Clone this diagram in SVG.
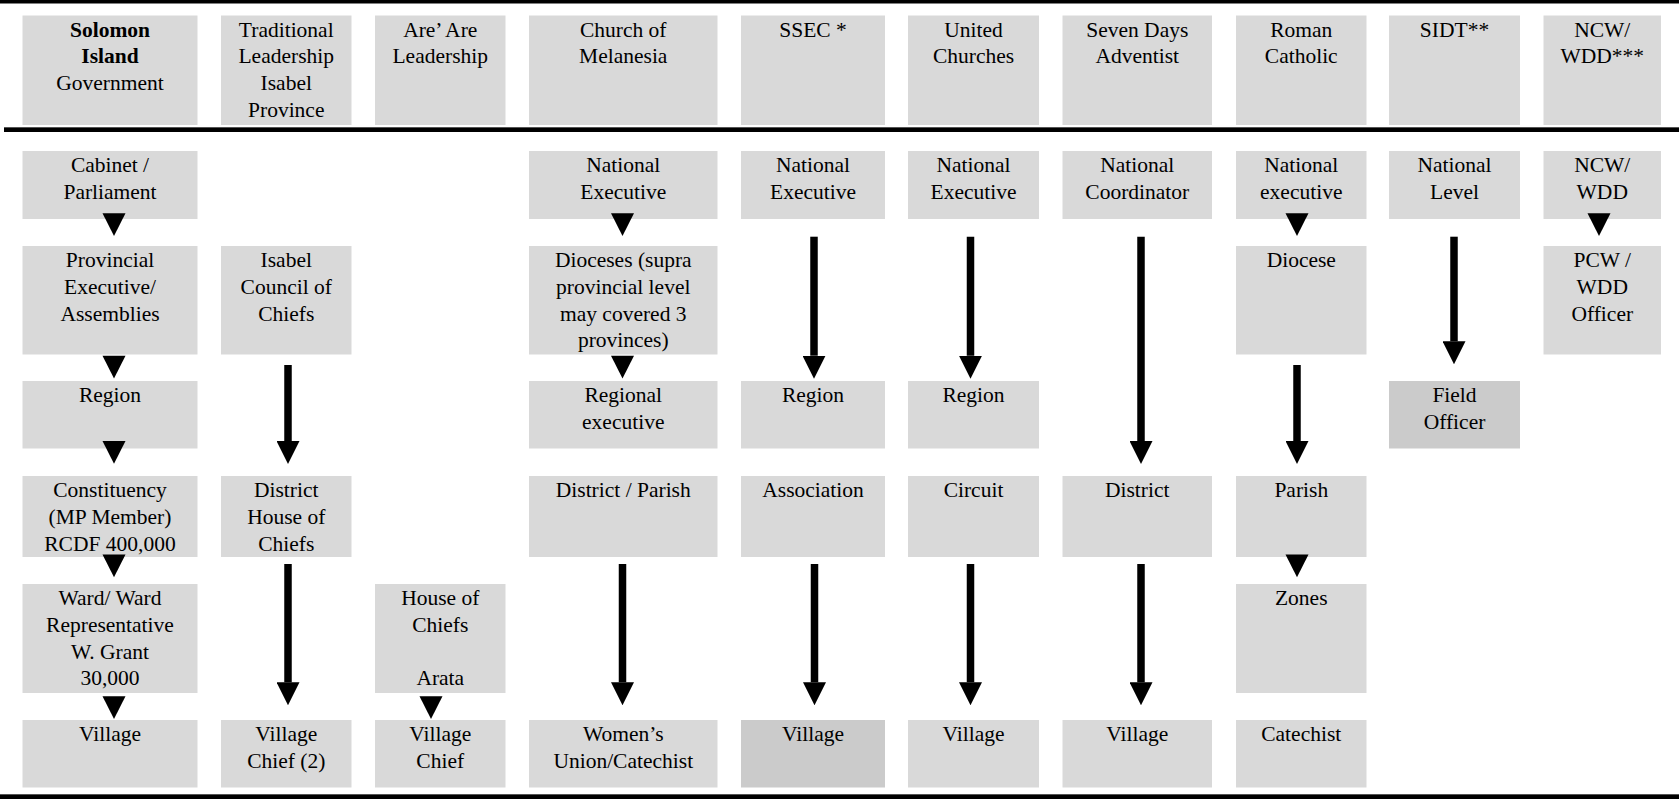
<svg xmlns="http://www.w3.org/2000/svg" xmlns:xlink="http://www.w3.org/1999/xlink" width="1679" height="799" viewBox="0 0 1679 799">
<style>
.b{fill:#d9d9d9}
.d{fill:#cbcbcb}
.t text{fill:#000;text-anchor:middle}
.bold{font-weight:bold}
.shaft{stroke:#000;stroke-width:7.5;marker-end:url(#head)}
.rule{fill:#000}
</style>
<defs>
<marker id="head" markerUnits="userSpaceOnUse" viewBox="0 0 23 23" refX="0" refY="11.5" markerWidth="23" markerHeight="23" orient="auto">
<path d="M0 0L23 11.5L0 23Z" fill="#000"/>
</marker>
<path id="tri" d="M-11.5 0H11.5L0 22.7Z" fill="#000"/>
</defs>
<rect width="1679" height="799" fill="#fff"/>
<g id="rules">
<rect class="rule" x="0" y="0" width="1679" height="3.5"/>
<rect x="4" y="127" width="1675" height="1" fill="#555"/>
<rect class="rule" x="4" y="128" width="1675" height="4"/>
<rect x="0" y="794" width="1679" height="1" fill="#555"/>
<rect class="rule" x="0" y="795" width="1679" height="4"/>
</g>
<g class="t" font-family="Liberation Serif, Tinos, Times New Roman, DejaVu Serif, Noto Serif, serif" font-size="21.5">
<g id="headers">
<g id="h-gov"><rect class="b" x="22.5" y="15.5" width="175" height="109.5"/><text x="110" y="36.5" class="bold">Solomon</text><text x="110" y="63.3" class="bold">Island</text><text x="110" y="90.1">Government</text></g>
<g id="h-trad"><rect class="b" x="221" y="15.5" width="130.5" height="109.5"/><text x="286.25" y="36.5">Traditional</text><text x="286.25" y="63.3">Leadership</text><text x="286.25" y="90.1">Isabel</text><text x="286.25" y="116.9">Province</text></g>
<g id="h-are"><rect class="b" x="375" y="15.5" width="130.5" height="109.5"/><text x="440.25" y="36.5">Are’ Are</text><text x="440.25" y="63.3">Leadership</text></g>
<g id="h-church"><rect class="b" x="529" y="15.5" width="188.5" height="109.5"/><text x="623.25" y="36.5">Church of</text><text x="623.25" y="63.3">Melanesia</text></g>
<g id="h-ssec"><rect class="b" x="741" y="15.5" width="144" height="109.5"/><text x="813" y="36.5">SSEC *</text></g>
<g id="h-united"><rect class="b" x="908" y="15.5" width="131" height="109.5"/><text x="973.5" y="36.5">United</text><text x="973.5" y="63.3">Churches</text></g>
<g id="h-seven"><rect class="b" x="1062.5" y="15.5" width="149.5" height="109.5"/><text x="1137.25" y="36.5">Seven Days</text><text x="1137.25" y="63.3">Adventist</text></g>
<g id="h-roman"><rect class="b" x="1236" y="15.5" width="130.5" height="109.5"/><text x="1301.25" y="36.5">Roman</text><text x="1301.25" y="63.3">Catholic</text></g>
<g id="h-sidt"><rect class="b" x="1389" y="15.5" width="131" height="109.5"/><text x="1454.5" y="36.5">SIDT**</text></g>
<g id="h-ncw"><rect class="b" x="1543.5" y="15.5" width="117.5" height="109.5"/><text x="1602.25" y="36.5">NCW/</text><text x="1602.25" y="63.3">WDD***</text></g>
</g>
<g id="row1">
<g id="gov-cabinet"><rect class="b" x="22.5" y="151" width="175" height="68"/><text x="110" y="172">Cabinet /</text><text x="110" y="198.8">Parliament</text></g>
<g id="church-national"><rect class="b" x="529" y="151" width="188.5" height="68"/><text x="623.25" y="172">National</text><text x="623.25" y="198.8">Executive</text></g>
<g id="ssec-national"><rect class="b" x="741" y="151" width="144" height="68"/><text x="813" y="172">National</text><text x="813" y="198.8">Executive</text></g>
<g id="united-national"><rect class="b" x="908" y="151" width="131" height="68"/><text x="973.5" y="172">National</text><text x="973.5" y="198.8">Executive</text></g>
<g id="seven-national"><rect class="b" x="1062.5" y="151" width="149.5" height="68"/><text x="1137.25" y="172">National</text><text x="1137.25" y="198.8">Coordinator</text></g>
<g id="roman-national"><rect class="b" x="1236" y="151" width="130.5" height="68"/><text x="1301.25" y="172">National</text><text x="1301.25" y="198.8">executive</text></g>
<g id="sidt-national"><rect class="b" x="1389" y="151" width="131" height="68"/><text x="1454.5" y="172">National</text><text x="1454.5" y="198.8">Level</text></g>
<g id="ncw-national"><rect class="b" x="1543.5" y="151" width="117.5" height="68"/><text x="1602.25" y="172">NCW/</text><text x="1602.25" y="198.8">WDD</text></g>
</g>
<g id="row2">
<g id="gov-provincial"><rect class="b" x="22.5" y="246" width="175" height="108.5"/><text x="110" y="267">Provincial</text><text x="110" y="293.8">Executive/</text><text x="110" y="320.6">Assemblies</text></g>
<g id="trad-council"><rect class="b" x="221" y="246" width="130.5" height="108.5"/><text x="286.25" y="267">Isabel</text><text x="286.25" y="293.8">Council of</text><text x="286.25" y="320.6">Chiefs</text></g>
<g id="church-dioceses"><rect class="b" x="529" y="246" width="188.5" height="108.5"/><text x="623.25" y="267">Dioceses (supra</text><text x="623.25" y="293.8">provincial level</text><text x="623.25" y="320.6">may covered 3</text><text x="623.25" y="347.4">provinces)</text></g>
<g id="roman-diocese"><rect class="b" x="1236" y="246" width="130.5" height="108.5"/><text x="1301.25" y="267">Diocese</text></g>
<g id="ncw-pcw"><rect class="b" x="1543.5" y="246" width="117.5" height="108.5"/><text x="1602.25" y="267">PCW /</text><text x="1602.25" y="293.8">WDD</text><text x="1602.25" y="320.6">Officer</text></g>
</g>
<g id="row3">
<g id="gov-region"><rect class="b" x="22.5" y="381" width="175" height="67.5"/><text x="110" y="402">Region</text></g>
<g id="church-regional"><rect class="b" x="529" y="381" width="188.5" height="67.5"/><text x="623.25" y="402">Regional</text><text x="623.25" y="428.8">executive</text></g>
<g id="ssec-region"><rect class="b" x="741" y="381" width="144" height="67.5"/><text x="813" y="402">Region</text></g>
<g id="united-region"><rect class="b" x="908" y="381" width="131" height="67.5"/><text x="973.5" y="402">Region</text></g>
<g id="sidt-field"><rect class="d" x="1389" y="381" width="131" height="67.5"/><text x="1454.5" y="402">Field</text><text x="1454.5" y="428.8">Officer</text></g>
</g>
<g id="row4">
<g id="gov-constituency"><rect class="b" x="22.5" y="476" width="175" height="81"/><text x="110" y="497">Constituency</text><text x="110" y="523.8">(MP Member)</text><text x="110" y="550.6">RCDF 400,000</text></g>
<g id="trad-district"><rect class="b" x="221" y="476" width="130.5" height="81"/><text x="286.25" y="497">District</text><text x="286.25" y="523.8">House of</text><text x="286.25" y="550.6">Chiefs</text></g>
<g id="church-district"><rect class="b" x="529" y="476" width="188.5" height="81"/><text x="623.25" y="497">District / Parish</text></g>
<g id="ssec-association"><rect class="b" x="741" y="476" width="144" height="81"/><text x="813" y="497">Association</text></g>
<g id="united-circuit"><rect class="b" x="908" y="476" width="131" height="81"/><text x="973.5" y="497">Circuit</text></g>
<g id="seven-district"><rect class="b" x="1062.5" y="476" width="149.5" height="81"/><text x="1137.25" y="497">District</text></g>
<g id="roman-parish"><rect class="b" x="1236" y="476" width="130.5" height="81"/><text x="1301.25" y="497">Parish</text></g>
</g>
<g id="row5">
<g id="gov-ward"><rect class="b" x="22.5" y="584" width="175" height="109"/><text x="110" y="605">Ward/ Ward</text><text x="110" y="631.8">Representative</text><text x="110" y="658.6">W. Grant</text><text x="110" y="685.4">30,000</text></g>
<g id="are-house"><rect class="b" x="375" y="584" width="130.5" height="109"/><text x="440.25" y="605">House of</text><text x="440.25" y="631.8">Chiefs</text><text x="440.25" y="685.4">Arata</text></g>
<g id="roman-zones"><rect class="b" x="1236" y="584" width="130.5" height="109"/><text x="1301.25" y="605">Zones</text></g>
</g>
<g id="row6">
<g id="gov-village"><rect class="b" x="22.5" y="720" width="175" height="67.5"/><text x="110" y="741">Village</text></g>
<g id="trad-village"><rect class="b" x="221" y="720" width="130.5" height="67.5"/><text x="286.25" y="741">Village</text><text x="286.25" y="767.8">Chief (2)</text></g>
<g id="are-village"><rect class="b" x="375" y="720" width="130.5" height="67.5"/><text x="440.25" y="741">Village</text><text x="440.25" y="767.8">Chief</text></g>
<g id="church-women"><rect class="b" x="529" y="720" width="188.5" height="67.5"/><text x="623.25" y="741">Women’s</text><text x="623.25" y="767.8">Union/Catechist</text></g>
<g id="ssec-village"><rect class="d" x="741" y="720" width="144" height="67.5"/><text x="813" y="741">Village</text></g>
<g id="united-village"><rect class="b" x="908" y="720" width="131" height="67.5"/><text x="973.5" y="741">Village</text></g>
<g id="seven-village"><rect class="b" x="1062.5" y="720" width="149.5" height="67.5"/><text x="1137.25" y="741">Village</text></g>
<g id="roman-catechist"><rect class="b" x="1236" y="720" width="130.5" height="67.5"/><text x="1301.25" y="741">Catechist</text></g>
</g>
</g>
<g id="connectors">
<use xlink:href="#tri" x="114" y="213.3"/>
<use xlink:href="#tri" x="114" y="355.7"/>
<use xlink:href="#tri" x="114" y="441"/>
<use xlink:href="#tri" x="114" y="554.5"/>
<use xlink:href="#tri" x="114" y="696.3"/>
<use xlink:href="#tri" x="431" y="696.3"/>
<use xlink:href="#tri" x="622.5" y="213.3"/>
<use xlink:href="#tri" x="622.5" y="355.7"/>
<use xlink:href="#tri" x="1297" y="213.3"/>
<use xlink:href="#tri" x="1297" y="554.5"/>
<use xlink:href="#tri" x="1599" y="213.3"/>
<line class="shaft" x1="288" y1="365" x2="288" y2="441"/>
<line class="shaft" x1="288" y1="564" x2="288" y2="682.3"/>
<line class="shaft" x1="814" y1="236.7" x2="814" y2="355.7"/>
<line class="shaft" x1="970.5" y1="236.7" x2="970.5" y2="355.7"/>
<line class="shaft" x1="1141" y1="236.7" x2="1141" y2="441"/>
<line class="shaft" x1="1454" y1="236.7" x2="1454" y2="341.3"/>
<line class="shaft" x1="1297" y1="365" x2="1297" y2="441"/>
<line class="shaft" x1="622.5" y1="564" x2="622.5" y2="682.3"/>
<line class="shaft" x1="814.5" y1="564" x2="814.5" y2="682.3"/>
<line class="shaft" x1="970.5" y1="564" x2="970.5" y2="682.3"/>
<line class="shaft" x1="1141" y1="564" x2="1141" y2="682.3"/>
</g>
</svg>
